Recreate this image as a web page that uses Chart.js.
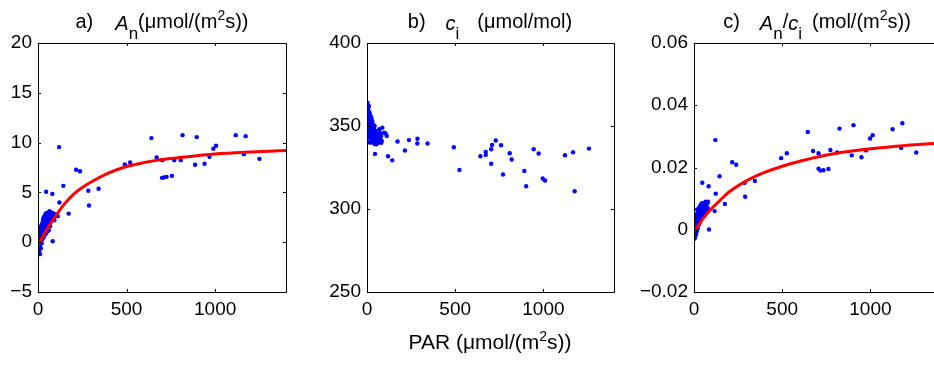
<!DOCTYPE html>
<html lang="en">
<head>
<meta charset="UTF-8">
<title>Light response</title>
<script src="https://cdn.jsdelivr.net/npm/chart.js"></script>
<style>
    html, body {
        margin: 0;
        padding: 0;
        background: #fff;
        width: 934px;
        height: 365px;
        overflow: hidden;
    }
    body {
        position: relative;
        font-family: 'Liberation Sans', Arial, sans-serif;
        color: #000;
    }
    canvas {
        position: absolute;
        top: 0;
    }
    .title {
        position: absolute;
        top: 11px;
        font-size: 20px;
        line-height: 20px;
        white-space: nowrap;
        transform: translateX(-50%);
    }
    .title i { font-style: italic; position: relative; top: 2px; }
    .sub { position: relative; top: 11px; font-size: 17px; }
    .sup { position: relative; top: -8px; font-size: 14px; }
    .xlabel {
        position: absolute;
        top: 331px;
        left: 490px;
        font-size: 21px;
        line-height: 21px;
        white-space: nowrap;
        transform: translateX(-50%);
    }
</style>
</head>
<body>
<canvas id="chartA" width="292" height="365" style="left:0px"></canvas>
<canvas id="chartB" width="300" height="365" style="left:318px"></canvas>
<canvas id="chartC" width="310" height="365" style="left:636px"></canvas>

<div class="title" style="left:162px">a)<i style="margin-left:22px">A</i><span class="sub">n</span>(μmol/(m<span class="sup">2</span>s))</div>
<div class="title" style="left:490px">b)<i style="margin-left:20px">c</i><span class="sub">i</span><span style="margin-left:18px">(μmol/mol)</span></div>
<div class="title" style="left:817px">c)<i style="margin-left:20px">A</i><span class="sub">n</span>/<i>c</i><span class="sub">i</span><span style="margin-left:10px">(mol/(m<span class="sup">2</span>s))</span></div>
<div class="xlabel">PAR (μmol/(m<span class="sup">2</span>s))</div>

<script>
// x axis (PAR) shared by all panels
const xTicks = [0, 500, 1000];
const xMax = 1400;

// a) net assimilation An vs PAR
const aTicks = [-5, 0, 5, 10, 15, 20];
const anPoints = [
    [2,-0.8],[3,-1.1],[4,-0.5],[5,0.2],[5,-0.2],[6,0.8],[6,1.2],[7,-0.9],[8,0.5],[8,1.0],
    [9,-0.3],[10,0.3],[10,1.4],[11,-1.2],[12,0.7],[13,0.0],[14,1.1],[15,0.4],[16,-0.6],[17,1.6],
    [18,0.9],[19,0.2],[20,1.3],[21,-0.1],[22,0.6],[23,1.8],[24,1.0],[25,0.3],[26,2.0],[27,1.4],
    [28,0.7],[29,2.3],[30,1.1],[31,1.7],[32,0.5],[33,2.5],[34,1.3],[35,1.9],[36,0.9],[37,2.2],
    [38,1.5],[39,2.7],[40,1.2],[41,2.0],[42,0.8],[43,2.4],[44,1.7],[45,2.9],[46,1.4],[47,2.1],
    [48,2.6],[49,1.0],[50,2.3],[52,1.8],[53,2.8],[55,1.5],[56,2.5],[58,2.0],[60,3.0],[61,1.2],
    [63,2.6],[65,3.1],[65,2.2],[67,2.9],[68,1.6],[70,2.4],[72,3.0],[75,2.1],[77,2.7],[80,2.3],
    [83,0.1],[85,2.9],[88,2.5],[92,2.2],[95,2.8],[111,2.6],
    [46,5.06],[81,4.85],[119,9.55],[121,3.98],[143,5.66],[173,2.87],[215,7.27],[237,7.13],
    [284,5.16],[288,3.68],[342,5.36],[490,7.8],[520,8.0],[640,10.45],[670,8.5],[700,6.46],
    [701,8.24],[710,6.5],[726,6.56],[756,6.66],[769,8.24],[806,8.24],[816,10.75],[887,7.77],
    [896,10.55],[940,7.87],[968,8.57],[990,9.38],[1005,9.68],[1116,10.75],[1162,8.84],
    [1172,10.65],[1250,8.37]
];
const anFitPar = [0, 25, 50, 100, 150, 200, 250, 300, 400, 500, 600, 700, 800, 1000, 1200, 1400];
const anFit = [-0.3, 0.5, 1.3, 2.65, 3.85, 4.8, 5.5, 6.05, 6.95, 7.6, 8.0, 8.3, 8.5, 8.85, 9.05, 9.2];

// b) intercellular CO2 ci vs PAR
const bTicks = [250, 300, 350, 400];
const ciPoints = [
    [1,363],[1,355],[2,360],[2,349],[3,364],[3,352],[4,357],[4,346],[5,362],[5,350],
    [6,358],[6,344],[7,361],[7,353],[8,347],[9,359],[9,351],[10,355],[10,343],[11,362],
    [12,349],[13,356],[13,345],[14,352],[15,358],[15,340],[16,347],[17,354],[18,343],[19,350],
    [20,356],[21,346],[22,352],[23,341],[24,349],[25,355],[26,344],[27,351],[28,347],[29,340],
    [30,353],[31,345],[32,349],[34,342],[35,351],[36,346],[38,340],[40,348],[41,343],[43,350],
    [45,339],[46,345],[48,341],[50,347],[52,343],[54,339],[56,345],[58,341],[60,344],[63,342],
    [66,340],[70,348],[73,346],[76,343],[80,344],[84,341],[87,349],[96,346],[105,345.5],[112,344],
    [13,340.3],[45,333.2],[81,339.9],[119,331.8],[143,329.3],[173,340.7],[215,335.2],[238,341.5],
    [285,339.5],[286,342.3],[343,339.5],[492,337.2],[524,323.5],[643,331.8],[673,332.6],
    [673,334.4],[704,336],[709,338.6],[730,341.3],[704,327.3],[760,338.4],[771,320.8],
    [809,333.6],[820,329.8],[892,322.9],[902,313.7],[945,336],[973,333.4],[996,318.4],
    [1009,317.2],[1122,332.4],[1168,334.2],[1177,310.7],[1258,336.4]
];

// c) An/ci vs PAR
const cTicks = [-0.02, 0, 0.02, 0.04, 0.06];
const ratioPoints = [
    [1,-0.003],[2,0.001],[3,-0.002],[4,0.003],[5,0.0],[6,-0.0025],[7,0.002],[8,0.004],[9,-0.001],[10,0.0015],
    [11,0.003],[12,-0.0015],[13,0.005],[14,0.001],[15,0.003],[16,-0.0005],[17,0.004],[18,0.0065],[19,0.002],[20,0.0035],
    [21,0.0005],[22,0.005],[23,0.0025],[24,0.006],[25,0.004],[26,0.0015],[27,0.0055],[28,0.003],[29,0.007],[30,0.0045],
    [31,0.002],[32,0.006],[33,0.0035],[34,0.0075],[35,0.005],[36,0.003],[37,0.0065],[38,0.0045],[39,0.008],[40,0.0055],
    [41,0.0035],[42,0.007],[43,0.005],[44,0.0085],[45,0.006],[47,0.004],[48,0.0075],[50,0.0055],[52,0.008],[54,0.0065],
    [55,0.0045],[57,0.0085],[59,0.006],[61,0.0075],[63,0.005],[65,0.009],[67,0.0065],[70,0.008],[72,0.0055],[75,0.0085],
    [78,0.007],[80,0.009],[85,0.0001],
    [47,0.0151],[83,0.014],[117,0.006],[121,0.0288],[123,0.0116],[145,0.0172],[175,0.0083],[217,0.0217],
    [239,0.0209],[287,0.0151],[290,0.0106],[345,0.0157],[494,0.023],[526,0.0246],[645,0.0314],
    [675,0.0253],[706,0.0246],[706,0.0196],[717,0.019],[734,0.0191],[762,0.0195],[773,0.0256],
    [811,0.0248],[825,0.0325],[894,0.0239],[904,0.0336],[949,0.0233],[975,0.0255],[998,0.0293],
    [1013,0.0304],[1126,0.0323],[1174,0.0263],[1181,0.0342],[1260,0.0248]
];
const ratioFitPar = [0, 50, 100, 150, 200, 300, 400, 500, 600, 700, 800, 1000, 1200, 1400];
const ratioFit = [-0.0007, 0.0035, 0.0068, 0.0096, 0.0122, 0.0158, 0.0184, 0.0204, 0.022, 0.0234, 0.0245, 0.026, 0.0271, 0.0279];

const FONT = "'Liberation Sans', Arial, sans-serif";

// box round the plot area with short inward ticks on all four sides
const boxPlugin = {
    id: 'box',
    afterDraw(chart) {
        const ctx = chart.ctx;
        const a = chart.chartArea;
        const x = chart.scales.x, y = chart.scales.y;
        ctx.save();
        ctx.strokeStyle = '#000';
        ctx.lineWidth = 1;
        ctx.beginPath();
        ctx.rect(Math.round(a.left) + 0.5, Math.round(a.top) + 0.5,
                 Math.round(a.right - a.left), Math.round(a.bottom - a.top));
        x.ticks.forEach(t => {
            const px = Math.round(x.getPixelForValue(t.value)) + 0.5;
            ctx.moveTo(px, a.bottom); ctx.lineTo(px, a.bottom - 3);
            ctx.moveTo(px, a.top); ctx.lineTo(px, a.top + 3);
        });
        y.ticks.forEach(t => {
            const py = Math.round(y.getPixelForValue(t.value)) + 0.5;
            ctx.moveTo(a.left, py); ctx.lineTo(a.left + 3, py);
            ctx.moveTo(a.right, py); ctx.lineTo(a.right - 3, py);
        });
        ctx.stroke();
        ctx.restore();
    }
};

function fmt(v) {
    return v < 0 ? '\u2212' + Math.abs(v) : String(v);
}

function makePanel(id, points, fitX, fitY, yTicks, yWidth, padRight) {
    const datasets = [];
    if (fitX) {
        datasets.push({
            type: 'line',
            data: fitX.map((p, i) => ({ x: p, y: fitY[i] })),
            borderColor: '#ff0000',
            borderWidth: 3,
            pointRadius: 0,
            cubicInterpolationMode: 'monotone',
            fill: false
        });
    }
    datasets.push({
        data: points.map(p => ({ x: p[0], y: p[1] })),
        backgroundColor: '#0000ff',
        borderWidth: 0,
        pointRadius: 2.2
    });

    new Chart(document.getElementById(id), {
        type: 'scatter',
        data: { datasets: datasets },
        options: {
            responsive: false,
            animation: false,
            devicePixelRatio: 1,
            layout: { padding: { top: 43, right: padRight, bottom: 0, left: 0 } },
            scales: {
                x: {
                    type: 'linear',
                    min: 0,
                    max: xMax,
                    afterBuildTicks: s => { s.ticks = xTicks.map(v => ({ value: v })); },
                    afterFit: s => { s.height = 73; },
                    ticks: { color: '#000', font: { family: FONT, size: 19 }, padding: 6, maxRotation: 0, autoSkip: false, callback: fmt },
                    grid: { display: false, drawTicks: false },
                    border: { display: false }
                },
                y: {
                    type: 'linear',
                    min: yTicks[0],
                    max: yTicks[yTicks.length - 1],
                    afterBuildTicks: s => { s.ticks = yTicks.map(v => ({ value: v })); },
                    afterFit: s => { s.width = yWidth; },
                    ticks: { color: '#000', font: { family: FONT, size: 19 }, padding: 6, autoSkip: false, callback: fmt },
                    grid: { display: false, drawTicks: false },
                    border: { display: false }
                }
            },
            plugins: {
                legend: { display: false },
                tooltip: { enabled: false },
                title: { display: false }
            }
        },
        plugins: [boxPlugin]
    });
}

makePanel('chartA', anPoints, anFitPar, anFit, aTicks, 38, 6);
makePanel('chartB', ciPoints, null, null, bTicks, 49, 4);
makePanel('chartC', ratioPoints, ratioFitPar, ratioFit, cTicks, 58, 5);
</script>
</body>
</html>
